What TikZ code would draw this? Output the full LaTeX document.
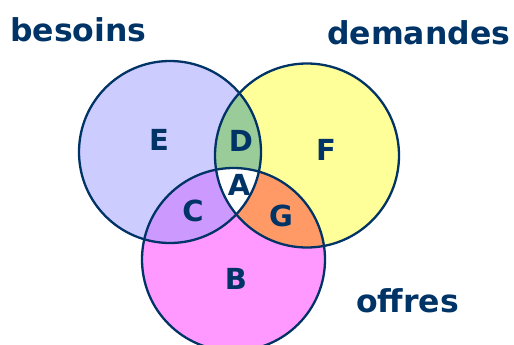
\documentclass[tikz,border=0pt]{standalone}
\usepackage{fontspec}
\setmainfont{DejaVu Sans}
\begin{document}
\begin{tikzpicture}[x=1pt,y=-1pt,
  outline/.style={draw=navy,line width=2.3pt},
  title/.style={text=navy,font=\fontsize{31.5}{31.5}\selectfont\bfseries,inner sep=0pt},
  region/.style={text=navy,font=\fontsize{29}{29}\selectfont\bfseries,inner sep=0pt}]
\definecolor{navy}{HTML}{003366}
\definecolor{lav}{HTML}{CCCCFF}
\definecolor{yel}{HTML}{FFFF99}
\definecolor{pinkm}{HTML}{FF99FF}
\definecolor{greenD}{HTML}{99CC99}
\definecolor{purpC}{HTML}{CC99FF}
\definecolor{orangeG}{HTML}{FF9966}
\useasboundingbox (0,0) rectangle (514,345);
\def\Lc{(170,152) circle (91)}
\def\Rc{(307,155.5) circle (92)}
\def\Bc{(233.5,259.5) circle (91.5)}
\fill[lav] \Lc;
\fill[yel] \Rc;
\fill[pinkm] \Bc;
\begin{scope}\clip \Lc; \fill[greenD] \Rc; \end{scope}
\begin{scope}\clip \Lc; \fill[purpC] \Bc; \end{scope}
\begin{scope}\clip \Rc; \fill[orangeG] \Bc; \end{scope}
\begin{scope}\clip \Lc; \clip \Rc; \fill[white] \Bc; \end{scope}
\draw[outline] \Lc;
\draw[outline] \Rc;
\draw[outline] \Bc;
\node[title,anchor=base west] (besoins) at (10,42) {besoins};
\node[title,anchor=base west] (demandes) at (327,45) {demandes};
\node[title,anchor=base west] (offres) at (356,312) {offres};
\node[region] (E) at (159,140) {E};
\node[region] (D) at (241,141) {D};
\node[region] (F) at (326,150) {F};
\node[region] (A) at (239,185) {A};
\node[region] (C) at (193,211) {C};
\node[region] (G) at (281,216) {G};
\node[region] (B) at (236,279) {B};
\end{tikzpicture}
\end{document}
